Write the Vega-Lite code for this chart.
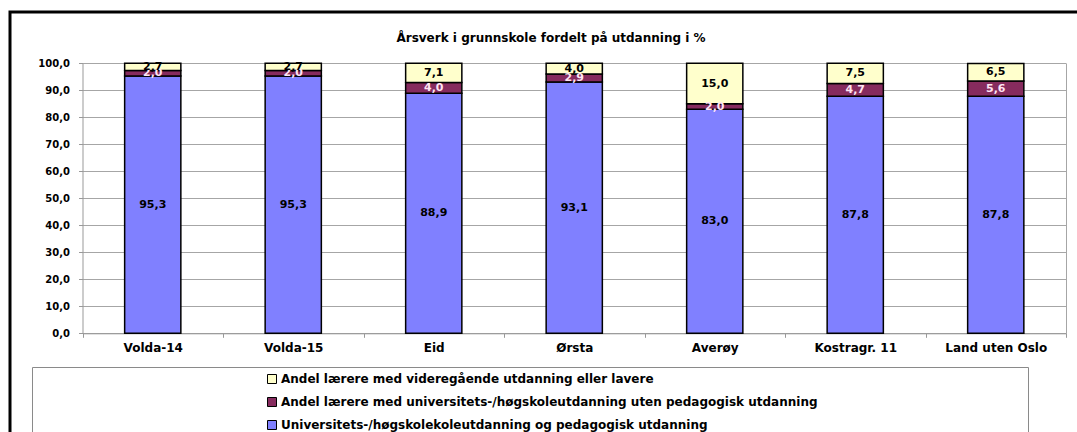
{
  "$schema": "https://vega.github.io/schema/vega-lite/v6.json",
  "autosize": {"type": "none"},
  "padding": {"left": 10, "top": 12, "right": -3, "bottom": -3},
  "width": 1070,
  "height": 423,
  "background": "white",
  "title": {
    "text": "Årsverk i grunnskole fordelt på utdanning i %",
    "anchor": "middle",
    "frame": "group",
    "offset": -33,
    "dx": 6,
    "font": "DejaVu Sans",
    "fontSize": 12,
    "fontWeight": "bold",
    "color": "#000000"
  },
  "config": {
    "locale": {"number": {"decimal": ",", "thousands": " ", "grouping": [3], "currency": ["", " kr"]}},
    "view": {"stroke": "#000000", "strokeWidth": 3, "fill": "white"},
    "font": "DejaVu Sans"
  },
  "data": {
    "values": [
      {"kommune": "Volda-14", "serie": "Universitets-/høgskolekoleutdanning og pedagogisk utdanning", "andel": 95.3, "k": 1},
      {"kommune": "Volda-14", "serie": "Andel lærere med universitets-/høgskoleutdanning uten pedagogisk utdanning", "andel": 2.0, "k": 2},
      {"kommune": "Volda-14", "serie": "Andel lærere med videregående utdanning eller lavere", "andel": 2.7, "k": 3},
      {"kommune": "Volda-15", "serie": "Universitets-/høgskolekoleutdanning og pedagogisk utdanning", "andel": 95.3, "k": 1},
      {"kommune": "Volda-15", "serie": "Andel lærere med universitets-/høgskoleutdanning uten pedagogisk utdanning", "andel": 2.0, "k": 2},
      {"kommune": "Volda-15", "serie": "Andel lærere med videregående utdanning eller lavere", "andel": 2.7, "k": 3},
      {"kommune": "Eid", "serie": "Universitets-/høgskolekoleutdanning og pedagogisk utdanning", "andel": 88.9, "k": 1},
      {"kommune": "Eid", "serie": "Andel lærere med universitets-/høgskoleutdanning uten pedagogisk utdanning", "andel": 4.0, "k": 2},
      {"kommune": "Eid", "serie": "Andel lærere med videregående utdanning eller lavere", "andel": 7.1, "k": 3},
      {"kommune": "Ørsta", "serie": "Universitets-/høgskolekoleutdanning og pedagogisk utdanning", "andel": 93.1, "k": 1},
      {"kommune": "Ørsta", "serie": "Andel lærere med universitets-/høgskoleutdanning uten pedagogisk utdanning", "andel": 2.9, "k": 2},
      {"kommune": "Ørsta", "serie": "Andel lærere med videregående utdanning eller lavere", "andel": 4.0, "k": 3},
      {"kommune": "Averøy", "serie": "Universitets-/høgskolekoleutdanning og pedagogisk utdanning", "andel": 83.0, "k": 1},
      {"kommune": "Averøy", "serie": "Andel lærere med universitets-/høgskoleutdanning uten pedagogisk utdanning", "andel": 2.0, "k": 2},
      {"kommune": "Averøy", "serie": "Andel lærere med videregående utdanning eller lavere", "andel": 15.0, "k": 3},
      {"kommune": "Kostragr. 11", "serie": "Universitets-/høgskolekoleutdanning og pedagogisk utdanning", "andel": 87.8, "k": 1},
      {"kommune": "Kostragr. 11", "serie": "Andel lærere med universitets-/høgskoleutdanning uten pedagogisk utdanning", "andel": 4.7, "k": 2},
      {"kommune": "Kostragr. 11", "serie": "Andel lærere med videregående utdanning eller lavere", "andel": 7.5, "k": 3},
      {"kommune": "Land uten Oslo", "serie": "Universitets-/høgskolekoleutdanning og pedagogisk utdanning", "andel": 87.8, "k": 1},
      {"kommune": "Land uten Oslo", "serie": "Andel lærere med universitets-/høgskoleutdanning uten pedagogisk utdanning", "andel": 5.6, "k": 2},
      {"kommune": "Land uten Oslo", "serie": "Andel lærere med videregående utdanning eller lavere", "andel": 6.5, "k": 3}
    ]
  },
  "resolve": {"axis": {"y": "independent"}},
  "layer": [
    {
      "mark": {"type": "bar", "width": {"band": 0.4}, "stroke": "#000000", "strokeWidth": 1.5},
      "encoding": {
        "x": {
          "field": "kommune", "type": "nominal", "sort": null,
          "scale": {"range": [72.5, 1056], "paddingInner": 0, "paddingOuter": 0},
          "axis": {
            "title": null, "orient": "bottom", "offset": -101.7, "labelAngle": 0,
            "tickBand": "extent", "tickSize": 4, "tickColor": "#999999",
            "domainColor": "#999999", "labelFont": "DejaVu Sans", "labelFontSize": 12,
            "labelFontWeight": "bold", "labelColor": "#000000", "labelPadding": 5
          }
        },
        "y": {
          "field": "andel", "type": "quantitative", "stack": "zero",
          "scale": {"domain": [0, 100], "range": [321.3, 51.3], "nice": false},
          "axis": {
            "title": null, "orient": "left", "offset": -72.5,
            "values": [0, 10, 20, 30, 40, 50, 60, 70, 80, 90, 100], "format": ".1f",
            "grid": true, "gridColor": "#a6a6a6", "gridWidth": 1,
            "tickSize": 4, "tickColor": "#999999", "domainColor": "#999999",
            "labelFont": "DejaVu Sans", "labelFontSize": 10, "labelFontWeight": "bold",
            "labelColor": "#000000", "labelPadding": 9
          }
        },
        "color": {
          "field": "serie", "type": "nominal",
          "scale": {
            "domain": [
              "Andel lærere med videregående utdanning eller lavere",
              "Andel lærere med universitets-/høgskoleutdanning uten pedagogisk utdanning",
              "Universitets-/høgskolekoleutdanning og pedagogisk utdanning"
            ],
            "range": ["#FFFFCC", "#862B5E", "#8080FF"]
          },
          "legend": {
            "orient": "none", "legendX": 22, "legendY": 355,
            "title": " ", "titleOrient": "right", "titlePadding": 204, "titleFontSize": 6,
            "padding": 6, "strokeColor": "#8a8a8a", "fillColor": "white",
            "symbolType": "square", "symbolSize": 81, "symbolOffset": 228,
            "symbolStrokeColor": "#000000", "symbolStrokeWidth": 1,
            "labelFont": "DejaVu Sans", "labelFontSize": 12, "labelFontWeight": "bold",
            "labelColor": "#000000", "labelOffset": 3, "labelLimit": 900, "rowPadding": 9
          }
        },
        "order": {"field": "k", "type": "quantitative", "sort": "ascending"}
      }
    },
    {
      "mark": {"type": "text", "font": "DejaVu Sans", "fontSize": 11, "fontWeight": "bold", "baseline": "middle"},
      "encoding": {
        "x": {"field": "kommune", "type": "nominal", "sort": null},
        "y": {
          "field": "andel", "type": "quantitative", "stack": "zero", "bandPosition": 0.5,
          "axis": {
            "title": null, "orient": "right", "offset": -14, "labels": false, "ticks": false,
            "grid": false, "domainColor": "#a6a6a6"
          }
        },
        "detail": {"field": "serie", "type": "nominal"},
        "order": {"field": "k", "type": "quantitative", "sort": "ascending"},
        "text": {"field": "andel", "type": "quantitative", "format": ".1f"},
        "color": {"condition": {"test": "datum.k === 2", "value": "#FFE4F2"}, "value": "#000000"}
      }
    }
  ]
}
